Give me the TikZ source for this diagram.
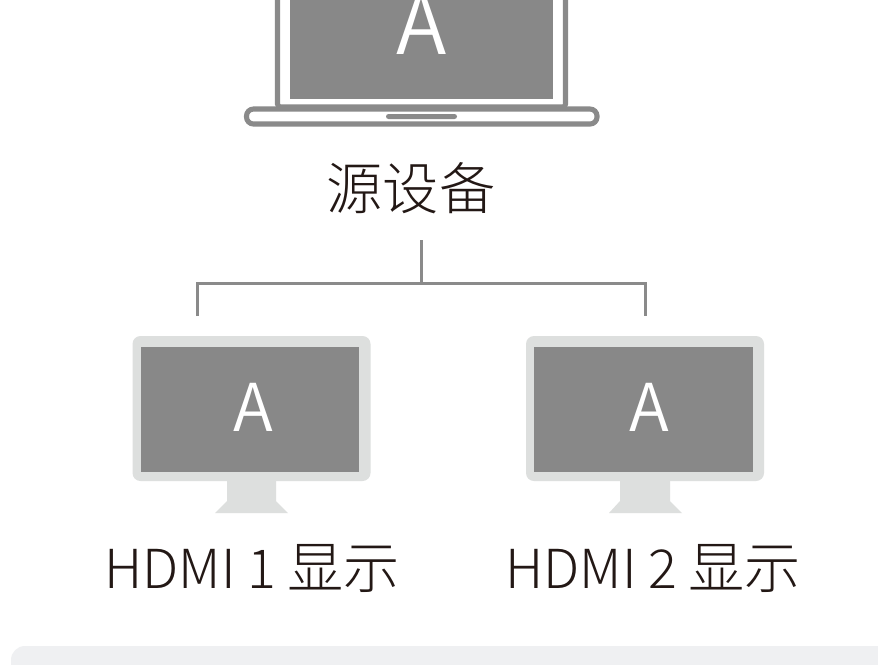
\documentclass[tikz,border=0pt]{standalone}
\usepackage{fontspec}
\setmainfont{Noto Sans CJK SC Light}
\newfontfamily\letterfont{Noto Sans CJK SC DemiLight}
\definecolor{framegray}{HTML}{8A8A8A}
\definecolor{screengray}{HTML}{888888}
\definecolor{bezelgray}{HTML}{DDDFDE}
\definecolor{panelgray}{HTML}{EFF0F2}
\definecolor{textblack}{HTML}{231815}
\newcommand{\latinsize}{\fontsize{30.6}{31}\selectfont}
\tikzset{
    screenbox/.style={fill=screengray,inner sep=0pt},
    letter/.style={text=white,inner sep=0pt,anchor=base,font=\letterfont\fontsize{37.5}{38}\selectfont},
    caption/.style={text=textblack,inner sep=0pt,font=\fontsize{32}{32}\selectfont},
    branch/.style={framegray,line width=1.5pt},
}

\begin{document}
\begin{tikzpicture}[x=0.02cm,y=-0.02cm]
    \clip (0,0) rectangle (878,664);
    \fill [ white ] (0,0) rectangle (878,664);
    \fill [ panelgray,rounded corners=0.28cm ] (11,646) rectangle (920,700);

    \draw [ framegray,line width=2.9pt,rounded corners=0.06cm ] (277.5,-20) -- (277.5,107) -- (565.5,107) -- (565.5,-20);
    \node [ screenbox,minimum width=5.26cm,minimum height=2.4cm,anchor=south west ] (lapscreen) at (290,99) {};
    \node [ letter,font=\letterfont\fontsize{47.5}{48}\selectfont ] (lapletter) at (421.5,54) {A};
    \draw [ framegray,fill=white,line width=2.9pt,rounded corners=0.14cm ] (246.5,109) rectangle (597,124);
    \fill [ framegray,rounded corners=0.05cm ] (386,114) rectangle (457,119);

    \node [ caption ] (source) at (411,188) {源设备};

    \coordinate (trunk) at (421.5,240);
    \coordinate (fork) at (421.5,283.5);
    \coordinate (leftdrop) at (197.5,316);
    \coordinate (rightdrop) at (645.5,316);
    \draw [ branch ] (trunk) -- (fork);
    \draw [ branch ] (leftdrop) |- (fork) -| (rightdrop);

    \fill [ bezelgray,rounded corners=0.16cm ] (132.5,336) rectangle (370.5,481);
    \fill [ bezelgray ] (227,481) -- (227,501) -- (215,513) -- (288,513) -- (276,501) -- (276,481) -- cycle;
    \node [ screenbox,minimum width=4.36cm,minimum height=2.5cm,anchor=north west ] (leftscreen) at (141,347) {};
    \node [ letter ] (leftletter) at (253,431) {A};
    \node [ caption ] (leftlabel) at (252,568.5) {{\latinsize HDMI 1}\hspace{0.19em}显示};

    \fill [ bezelgray,rounded corners=0.16cm ] (526,336) rectangle (764,481);
    \fill [ bezelgray ] (620,481) -- (620,501) -- (609,513) -- (682,513) -- (670,501) -- (670,481) -- cycle;
    \node [ screenbox,minimum width=4.38cm,minimum height=2.5cm,anchor=north west ] (rightscreen) at (534,347) {};
    \node [ letter ] (rightletter) at (649,431) {A};
    \node [ caption ] (rightlabel) at (653,568.5) {{\latinsize HDMI 2}\hspace{0.19em}显示};
\end{tikzpicture}
\end{document}
